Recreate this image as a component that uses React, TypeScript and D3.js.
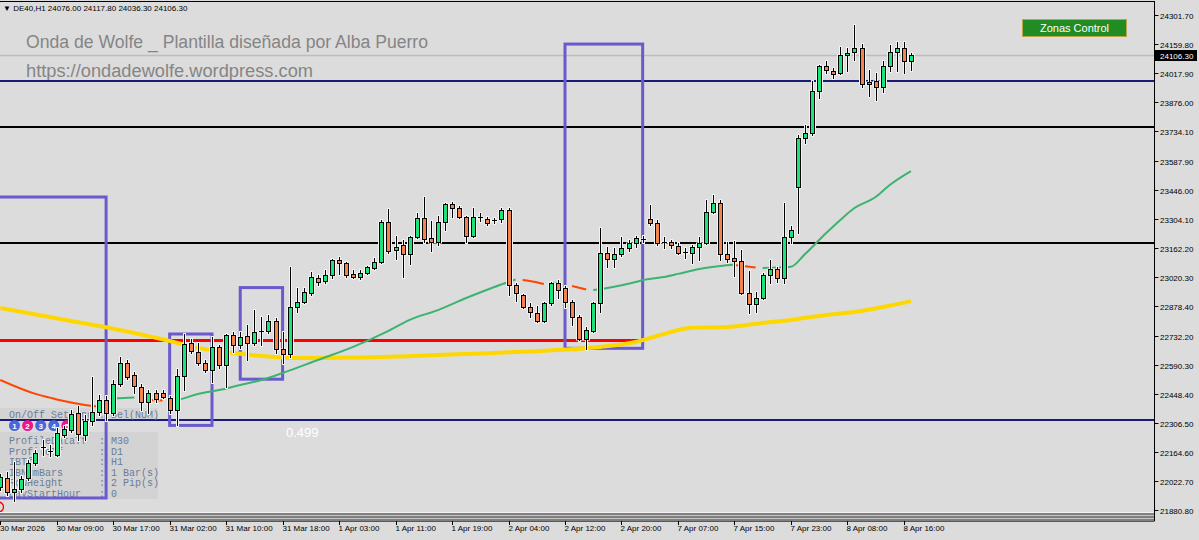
import React from "react";
import * as d3 from "d3";

const W = 1199;
const H = 540;

// ---- Candles (DE40, H1) ----
const opens = [
  21995, 22039, 21970, 21985, 22039, 22112, 22186, 22171, 22151, 22249,
  22274, 22357, 22249, 22318, 22362, 22420, 22357, 22499, 22601, 22543,
  22484, 22411, 22455, 22455, 22430, 22371, 22538, 22699, 22655, 22601,
  22567, 22680, 22592, 22738, 22689, 22733, 22699, 22758, 22758, 22807,
  22670, 22645, 22875, 22900, 22944, 23017, 23002, 23032, 23105, 23091,
  23037, 23022, 23041, 23066, 23096, 23291, 23154, 23178, 23134, 23218,
  23310, 23213, 23193, 23291, 23379, 23359, 23315, 23222, 23313, 23306,
  23296, 23306, 23350, 22983, 22934, 22875, 22846, 22807, 22895, 22993,
  22968, 22900, 22826, 22719, 22758, 22895, 23139, 23110, 23134, 23164,
  23188, 23208, 23306, 23286, 23193, 23193, 23174, 23144, 23139, 23169,
  23188, 23340, 23384, 23134, 23115, 23100, 22944, 22890, 22919, 23032,
  23061, 23017, 23218, 23462, 23702, 23726, 23932, 24054, 24027, 24018,
  24108, 24121, 24140, 23966, 23978, 23953, 24056, 24121, 24140, 24076,
];
const highs = [
  22058, 22068, 22117, 22049, 22127, 22176, 22225, 22200, 22283, 22293,
  22371, 22391, 22347, 22533, 22445, 22440, 22518, 22631, 22616, 22557,
  22499, 22469, 22469, 22469, 22440, 22572, 22743, 22719, 22699, 22616,
  22728, 22689, 22743, 22753, 22753, 22787, 22860, 22826, 22836, 22821,
  22753, 23071, 22968, 22968, 23046, 23032, 23056, 23110, 23120, 23096,
  23056, 23056, 23076, 23115, 23301, 23354, 23222, 23203, 23222, 23335,
  23413, 23296, 23320, 23384, 23389, 23369, 23318, 23359, 23335, 23315,
  23310, 23359, 23359, 22993, 22939, 22895, 22880, 22900, 22997, 23007,
  22978, 22909, 22836, 22777, 22900, 23262, 23169, 23164, 23218, 23203,
  23222, 23222, 23374, 23301, 23218, 23203, 23188, 23164, 23178, 23218,
  23399, 23423, 23399, 23193, 23198, 23154, 23051, 22949, 23041, 23105,
  23071, 23384, 23271, 23716, 23765, 23981, 24059, 24078, 24044, 24147,
  24140, 24254, 24159, 24032, 24020, 24076, 24158, 24169, 24169, 24117.8,
];
const lows = [
  21980, 21956, 21926, 21970, 22029, 22102, 22151, 22146, 22146, 22239,
  22264, 22225, 22225, 22298, 22347, 22322, 22347, 22489, 22523, 22455,
  22371, 22357, 22411, 22430, 22357, 22298, 22469, 22650, 22592, 22557,
  22508, 22577, 22484, 22655, 22675, 22616, 22689, 22689, 22748, 22650,
  22601, 22631, 22851, 22895, 22934, 22983, 22993, 23017, 23037, 23022,
  23017, 23012, 23037, 23061, 23091, 23139, 23110, 23022, 23086, 23213,
  23193, 23149, 23178, 23252, 23315, 23310, 23193, 23218, 23296, 23276,
  23286, 23291, 22934, 22905, 22870, 22826, 22802, 22802, 22885, 22919,
  22875, 22787, 22714, 22670, 22753, 22851, 23071, 23071, 23125, 23149,
  23169, 23193, 23276, 23178, 23164, 23164, 23134, 23115, 23091, 23105,
  23183, 23335, 23105, 23096, 23027, 22939, 22846, 22851, 22914, 22993,
  22997, 22993, 23188, 23237, 23677, 23716, 23897, 24020, 23995, 24015,
  24029, 24083, 23953, 23907, 23888, 23927, 24029, 24029, 24018, 24036.3,
];
const closes = [
  22044, 21970, 21985, 22034, 22112, 22161, 22190, 22168, 22259, 22278,
  22352, 22254, 22318, 22362, 22420, 22357, 22499, 22601, 22533, 22489,
  22411, 22455, 22425, 22435, 22371, 22538, 22694, 22660, 22601, 22567,
  22680, 22592, 22738, 22689, 22728, 22699, 22753, 22760, 22807, 22670,
  22645, 22875, 22900, 22949, 23022, 22997, 23032, 23105, 23091, 23032,
  23022, 23041, 23071, 23096, 23291, 23149, 23169, 23134, 23218, 23310,
  23208, 23193, 23291, 23379, 23359, 23315, 23222, 23315, 23312, 23286,
  23303, 23350, 22983, 22944, 22875, 22851, 22807, 22895, 22993, 22959,
  22900, 22826, 22719, 22763, 22895, 23139, 23110, 23134, 23164, 23188,
  23213, 23209, 23286, 23188, 23191, 23178, 23139, 23139, 23169, 23188,
  23340, 23384, 23134, 23110, 23100, 22944, 22890, 22919, 23032, 23061,
  23017, 23218, 23252, 23702, 23726, 23932, 24054, 24034, 24017, 24108,
  24118, 24140, 23966, 23976, 23953, 24056, 24121, 24140, 24076, 24106.3,
];

// ---- Axis labels ----
const timeLabels = [
  "30 Mar 2026", "30 Mar 09:00", "30 Mar 17:00", "31 Mar 02:00", "31 Mar 10:00",
  "31 Mar 18:00", "1 Apr 03:00", "1 Apr 11:00", "1 Apr 19:00", "2 Apr 04:00",
  "2 Apr 12:00", "2 Apr 20:00", "7 Apr 07:00", "7 Apr 15:00", "7 Apr 23:00",
  "8 Apr 08:00", "8 Apr 16:00",
];
const timeLabelStep = 8;
const priceTicks = [
  24301.7, 24159.8, 24017.9, 23876.0, 23734.1, 23587.9, 23446.0, 23304.1, 23162.2,
  23020.3, 22878.4, 22732.2, 22590.3, 22448.4, 22306.5, 22164.6, 22022.7, 21880.8,
];
const bidPrice = 24106.3;

// ---- Moving averages: [barIndex, price] ----
const maSlowYellow: [number, number][] = [
  [0, 22870], [7, 22826], [14, 22782], [19, 22748], [24, 22709], [28, 22675], [33, 22650],
  [38, 22633], [42, 22626], [54, 22631], [68, 22648], [79, 22665], [85, 22680], [90, 22704],
  [93, 22733], [98, 22773], [103, 22777], [108, 22797], [112, 22812], [117, 22836], [122, 22856],
  [125, 22875], [129, 22904],
];
const maRedSegments: [number, number][][] = [
  [[0, 22518], [5, 22450], [7, 22432], [9, 22415], [12, 22396], [14, 22388], [15, 22386]],
  [[21, 22420], [23, 22418]],
  [[74, 23007], [75, 23002], [77, 22988]],
  [[81, 22978], [83, 22961]],
  [[104, 23081], [107, 23068]],
];
const maGreenSegments: [number, number][][] = [
  [[16, 22428], [19, 22432]],
  [[24, 22418], [25, 22420], [28, 22450], [31, 22469], [34, 22494], [37, 22518], [40, 22552],
   [45, 22616], [50, 22680], [55, 22758], [58, 22812], [62, 22860], [66, 22919], [70, 22973], [73, 23010]],
  [[78, 22993], [79, 22993]],
  [[84, 22958], [86, 22968], [90, 22997], [91, 23007], [94, 23022], [96, 23037], [99, 23061],
   [102, 23076], [104, 23083]],
  [[108, 23066], [112, 23072], [114, 23134], [117, 23237], [119, 23301], [121, 23359],
   [124, 23413], [126, 23472], [129, 23540]],
];

// ---- Horizontal levels ----
const levelNavyTop = 23982;
const levelBlackUpper = 23753;
const levelBlackMid = 23189;
const levelRed = 22714;
const levelNavyBottom = 22321;

// ---- Zone boxes: [startBar, endBar, top, bottom] ----
const zoneBoxes: [number, number, number, number][] = [
  [-3, 15, 23413, 21941],
  [24, 30, 22743, 22296],
  [34, 40, 22970, 22522],
  [80, 91, 24161, 22673],
];

// ---- Panel texts ----
const panelRows = [
  "ProfileDataTf  : M30",
  "ProfileTf      : D1",
  "IBTf           : H1",
  "IBNumBars      : 1 Bar(s)",
  "RowHeight      : 2 Pip(s)",
  "DayStartHour   : 0",
];
const circleLabels = ["1", "2", "3", "4", "5", "6"];
const circleColors = ["#4a66d8", "#f0148c", "#4a66d8", "#4a66d8", "#f0148c", "#f0148c"];

const BG = "#dcdcdc";
const BULL = "#1de37b";
const BEAR = "#f4834f";
const PLOT_RIGHT = 1154.5;

export default function App() {
  const N = opens.length;
  const x = d3.scaleLinear().domain([0, N - 1]).range([0.2, 0.2 + (N - 1) * 7.06]);
  const y = d3.scaleLinear().domain([21880.8, 24301.7]).range([510.3, 15.3]);
  const line = d3
    .line<[number, number]>()
    .x((d) => x(d[0]))
    .y((d) => y(d[1]))
    .curve(d3.curveMonotoneX);

  const hLevel = (p: number, color: string, w: number, x2 = PLOT_RIGHT) => (
    <line x1={0} x2={x2} y1={Math.round(y(p)) + (w % 2 ? 0.5 : 0)} y2={Math.round(y(p)) + (w % 2 ? 0.5 : 0)} stroke={color} strokeWidth={w} />
  );

  return (
    <svg
      width={W}
      height={H}
      style={{ position: "absolute", left: 0, top: 0, display: "block" }}
      fontFamily="'Liberation Sans', Arial, sans-serif"
    >
      <rect x={0} y={0} width={W} height={H} fill={BG} />

      {/* bid line */}
      <line x1={0} x2={PLOT_RIGHT} y1={Math.round(y(bidPrice)) + 0.5} y2={Math.round(y(bidPrice)) + 0.5} stroke="#bdbdbd" strokeWidth={1.5} />

      {/* title texts */}
      <text x={26} y={47.5} fontSize={18} fill="#858585" textLength={402} lengthAdjust="spacingAndGlyphs">
        Onda de Wolfe _ Plantilla diseñada por Alba Puerro
      </text>
      <text x={26} y={76.5} fontSize={18} fill="#858585" textLength={287} lengthAdjust="spacingAndGlyphs">
        https://ondadewolfe.wordpress.com
      </text>

      {/* horizontal levels */}
      {hLevel(levelNavyTop, "#1a1a78", 2)}
      {hLevel(levelBlackUpper, "#000000", 2)}
      {hLevel(levelBlackMid, "#000000", 2)}
      {hLevel(levelRed, "#ff0000", 3, x(91))}
      {hLevel(levelNavyBottom, "#1a1a78", 2)}

      {/* panel */}
      <rect x={0} y={408} width={158} height={11} fill="#d3d3d3" />
      <rect x={0} y={432} width={158} height={67} fill="#d3d3d3" />
      <text x={9} y={417.5} fontSize={10} fill="#6d7d96" fontFamily="'Liberation Mono', 'DejaVu Sans Mono', monospace">
        {"On/Off Setting : Del(NUM)"}
      </text>
      {panelRows.map((r, i) => (
        <text key={r} x={9} y={444 + i * 10.6} fontSize={10} fill="#6d7d96" fontFamily="'Liberation Mono', 'DejaVu Sans Mono', monospace" style={{ whiteSpace: "pre" }}>
          {r}
        </text>
      ))}
      {circleLabels.map((c, i) => (
        <g key={c}>
          <circle cx={14.5 + i * 13.1} cy={425.5} r={5.5} fill={circleColors[i]} />
          <text x={14.5 + i * 13.1} y={428.5} fontSize={8} fontWeight="bold" fill="#ffffff" textAnchor="middle">
            {c}
          </text>
        </g>
      ))}
      <circle cx={-1.5} cy={507} r={5} fill="none" stroke="#ff0000" strokeWidth={1.3} />
      <text x={286} y={437} fontSize={13} fill="#ffffff">0.499</text>

      {/* zone boxes */}
      {zoneBoxes.map(([a, b, t, btm], i) => (
        <rect key={i} x={x(a)} y={y(t)} width={x(b) - x(a)} height={y(btm) - y(t)} fill="none" stroke="#6a5acd" strokeWidth={3} />
      ))}

      {/* moving averages */}
      <path d={line(maSlowYellow) || ""} fill="none" stroke="#ffd700" strokeWidth={4} />
      {maGreenSegments.map((s, i) => (
        <path key={"g" + i} d={line(s) || ""} fill="none" stroke="#3cb371" strokeWidth={2} />
      ))}
      {maRedSegments.map((s, i) => (
        <path key={"r" + i} d={line(s) || ""} fill="none" stroke="#ff4500" strokeWidth={2} />
      ))}

      {/* candles */}
      {opens.map((o, i) => {
        const c = closes[i];
        const xc = Math.round(x(i)) + 0.5;
        const yo = y(o);
        const yc = y(c);
        const top = Math.round(Math.min(yo, yc)) + 0.5;
        const bot = Math.round(Math.max(yo, yc)) + 0.5;
        const yh = Math.round(y(highs[i]));
        const yl = Math.round(y(lows[i])) + 1;
        const bull = c >= o;
        return (
          <g key={i}>
            <line x1={xc} x2={xc} y1={yh - 1} y2={yl + 1} stroke="#f3f3f3" strokeWidth={3} />
            <rect x={xc - 3.5} y={top - 1} width={7} height={bot - top + 2} fill="#f3f3f3" />
            <line x1={xc} x2={xc} y1={yh} y2={yl} stroke="#000000" strokeWidth={1} />
            {bot - top < 1.5 ? (
              <line x1={xc - 2.5} x2={xc + 2.5} y1={top} y2={top} stroke="#000000" strokeWidth={1} />
            ) : (
              <rect x={xc - 2} y={top} width={4} height={bot - top} fill={bull ? BULL : BEAR} stroke="#000000" strokeWidth={1} />
            )}
          </g>
        );
      })}

      {/* bottom stripes */}
      <rect x={0} y={512} width={PLOT_RIGHT} height={1} fill="#f2f2f2" />
      <rect x={0} y={513} width={PLOT_RIGHT} height={2} fill="#808080" />
      <rect x={0} y={515} width={PLOT_RIGHT} height={1} fill="#c4c4c4" />
      <rect x={0} y={516} width={PLOT_RIGHT} height={2} fill="#808080" />
      <rect x={0} y={518} width={PLOT_RIGHT} height={1} fill="#c4c4c4" />
      <rect x={0} y={519} width={PLOT_RIGHT} height={2} fill="#808080" />

      {/* frame */}
      <line x1={0} x2={PLOT_RIGHT} y1={1.5} y2={1.5} stroke="#000" />
      <line x1={PLOT_RIGHT} x2={PLOT_RIGHT} y1={1} y2={521} stroke="#000" />
      <line x1={0} x2={PLOT_RIGHT} y1={521.5} y2={521.5} stroke="#000" strokeOpacity={0.6} />

      {/* header */}
      <text x={3} y={11} fontSize={8} fill="#000">
        {"▼ DE40,H1  24076.00 24117.80 24036.30 24106.30"}
      </text>

      {/* Zonas Control button */}
      <rect x={1022.5} y={19.5} width={104} height={17} fill="#228b22" stroke="#b9a54a" strokeWidth={1} />
      <text x={1074.5} y={32} fontSize={11} fill="#ffffff" textAnchor="middle">Zonas Control</text>

      {/* price axis */}
      {priceTicks.map((p) => {
        const yy = Math.round(y(p)) + 0.5;
        return (
          <g key={p}>
            <line x1={PLOT_RIGHT} x2={PLOT_RIGHT + 4} y1={yy} y2={yy} stroke="#000" />
            <text x={1160} y={yy + 3} fontSize={8} fill="#000">{p.toFixed(2)}</text>
          </g>
        );
      })}
      <rect x={1155} y={Math.round(y(bidPrice)) - 5} width={42} height={11} fill="#000" />
      <text x={1160} y={Math.round(y(bidPrice)) + 3.5} fontSize={8} fill="#ffffff">{bidPrice.toFixed(2)}</text>

      {/* time axis */}
      {timeLabels.map((t, k) => {
        const xx = Math.round(x(k * timeLabelStep)) + 0.5;
        return (
          <g key={t}>
            <line x1={xx} x2={xx} y1={521} y2={525} stroke="#000" />
            <text x={Math.max(0, xx - 1)} y={531} fontSize={8} fill="#000">{t}</text>
          </g>
        );
      })}
    </svg>
  );
}
